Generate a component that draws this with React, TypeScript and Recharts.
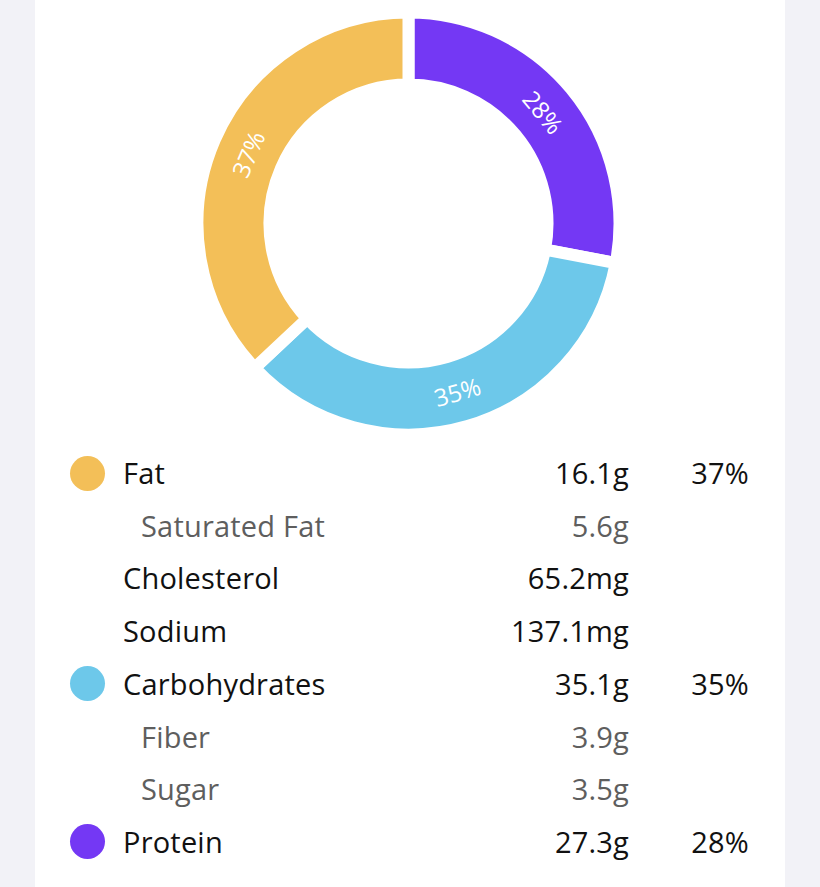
import React from "react";
import { PieChart, Pie, Cell } from "recharts";

const sliceNames = ["Protein", "Carbohydrates", "Fat"];
const slicePercents = [28, 35, 37];
const sliceColors = ["#7438F4", "#6DC8EA", "#F3BF58"];

const rowNames = ["Fat", "Saturated Fat", "Cholesterol", "Sodium", "Carbohydrates", "Fiber", "Sugar", "Protein"];
const rowAmounts = ["16.1g", "5.6g", "65.2mg", "137.1mg", "35.1g", "3.9g", "3.5g", "27.3g"];
const rowPercents = ["37%", "", "", "", "35%", "", "", "28%"];
const rowIsSub = [false, true, false, false, false, true, true, false];
const rowDotColors = ["#F3BF58", "", "", "", "#6DC8EA", "", "", "#7438F4"];

const pieData = sliceNames.map((name, i) => ({ name, value: slicePercents[i] }));

const FONT = "'Open Sans', Lato, sans-serif";
const RADIAN = Math.PI / 180;

const renderLabel = (props: any) => {
  const { cx, cy, midAngle, innerRadius, outerRadius, value } = props;
  const r = (innerRadius + outerRadius) / 2;
  const x = cx + r * Math.cos(-midAngle * RADIAN);
  const y = cy + r * Math.sin(-midAngle * RADIAN);
  let rot = 90 - midAngle;
  while (rot > 180) rot -= 360;
  while (rot < -180) rot += 360;
  if (rot > 90) rot -= 180;
  if (rot < -90) rot += 180;
  return (
    <text
      x={x}
      y={y}
      fill="#ffffff"
      fontSize={24}
      fontFamily={FONT}
      textAnchor="middle"
      dominantBaseline="central"
      transform={`rotate(${rot}, ${x}, ${y})`}
    >
      {`${value}%`}
    </text>
  );
};

export default function App() {
  const rowTop = 473;
  const rowStep = 52.7;
  return (
    <div style={{ position: "absolute", left: 0, top: 0, width: 820, height: 887, background: "#F2F2F7", overflow: "hidden" }}>
      <div style={{ position: "absolute", left: 35, top: 0, width: 750, height: 887, background: "#FFFFFF" }} />
      <div style={{ position: "absolute", left: 0, top: 0 }}>
        <PieChart width={820} height={440} margin={{ top: 0, right: 0, bottom: 0, left: 0 }}>
          <Pie
            data={pieData}
            dataKey="value"
            cx={408.5}
            cy={223.5}
            innerRadius={139}
            outerRadius={211}
            startAngle={90}
            endAngle={-270}
            paddingAngle={0}
            stroke="#FFFFFF"
            strokeWidth={12}
            label={renderLabel}
            labelLine={false}
            isAnimationActive={false}
          >
            {pieData.map((d, i) => (
              <Cell key={d.name} fill={sliceColors[i]} stroke="#FFFFFF" strokeWidth={12} />
            ))}
          </Pie>
        </PieChart>
      </div>
      {rowNames.map((name, i) => {
        const cyRow = rowTop + i * rowStep;
        const color = rowIsSub[i] ? "#5E5E5E" : "#111111";
        const common: React.CSSProperties = {
          position: "absolute",
          top: cyRow - 20,
          height: 40,
          lineHeight: "40px",
          fontFamily: FONT,
          fontSize: 29,
          letterSpacing: 0.2,
          color,
          whiteSpace: "nowrap",
        };
        return (
          <React.Fragment key={name + i}>
            {rowDotColors[i] ? (
              <div
                style={{
                  position: "absolute",
                  left: 87 - 17.5,
                  top: cyRow - 17.5,
                  width: 35,
                  height: 35,
                  borderRadius: "50%",
                  background: rowDotColors[i],
                }}
              />
            ) : null}
            <div style={{ ...common, left: rowIsSub[i] ? 141 : 123 }}>{name}</div>
            <div style={{ ...common, right: 820 - 629, textAlign: "right" }}>{rowAmounts[i]}</div>
            {rowPercents[i] ? (
              <div style={{ ...common, right: 820 - 749, textAlign: "right" }}>{rowPercents[i]}</div>
            ) : null}
          </React.Fragment>
        );
      })}
    </div>
  );
}
